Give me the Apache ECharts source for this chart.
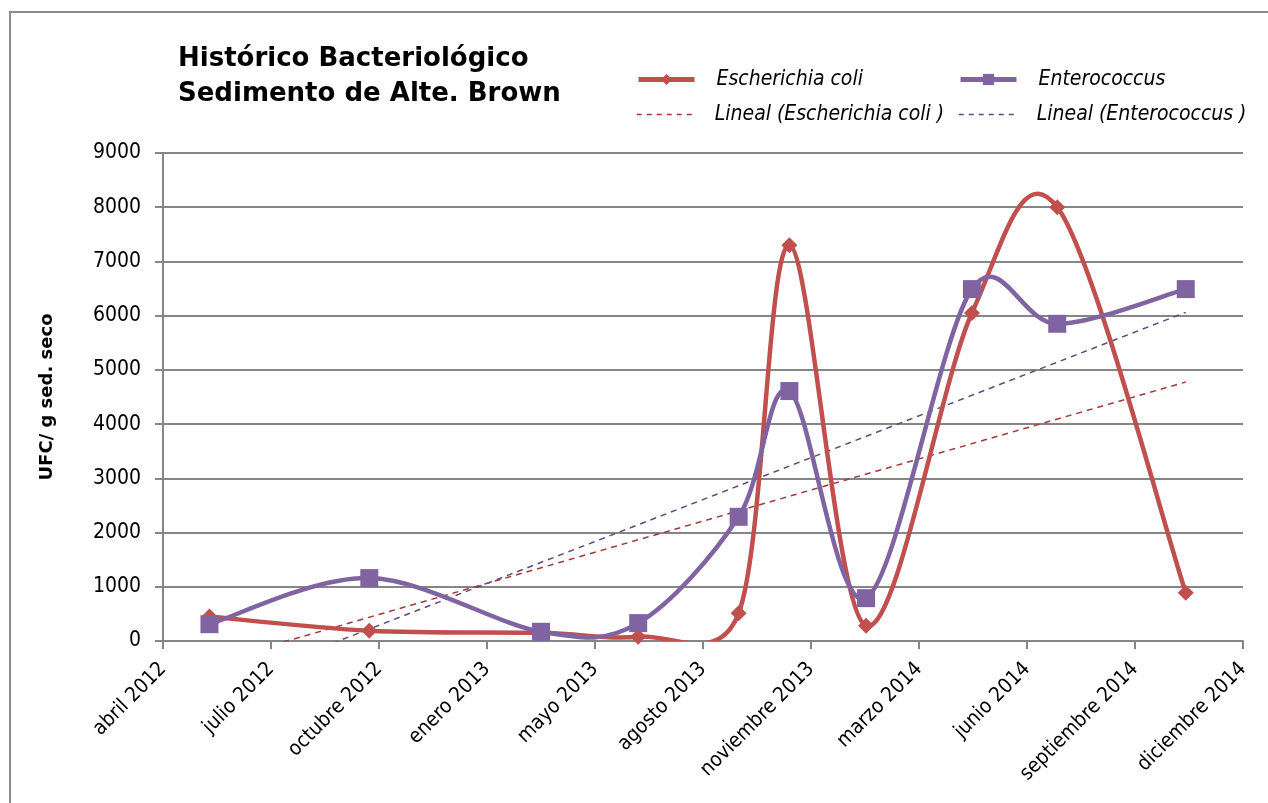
<!DOCTYPE html>
<html>
<head>
<meta charset="utf-8">
<script src="https://cdn.jsdelivr.net/npm/echarts@6/dist/echarts.min.js"></script>
<style>
html,body{margin:0;padding:0;background:#fff;}
#chart{width:1268px;height:803px;}
</style>
</head>
<body>
<div id="chart"></div>
<script>
// ---- Data ----
const startDate = '2012-04-01';
const sampleDates = ['2012-05-14','2012-10-09','2013-03-17','2013-06-15','2013-09-16','2013-11-02','2014-01-12','2014-04-20','2014-07-08','2014-11-04'];
const ecoli = [450, 190, 150, 80, 510, 7300, 280, 6050, 8000, 890];
const enterococcus = [310, 1160, 170, 330, 2290, 4610, 790, 6490, 5850, 6490];
const xTickLabels = ['abril 2012','julio 2012','octubre 2012','enero 2013','mayo 2013','agosto 2013','noviembre 2013','marzo 2014','junio 2014','septiembre 2014','diciembre 2014'];
const seriesNames = ['Escherichia coli','Enterococcus','Lineal (Escherichia coli )','Lineal (Enterococcus )'];

const DAY = 86400000;
const t0 = Date.parse(startDate + 'T00:00:00Z');
const xDays = sampleDates.map(d => Math.round((Date.parse(d + 'T00:00:00Z') - t0) / DAY));

function linReg(xs, ys){
  const n = xs.length;
  const mx = xs.reduce((a,b)=>a+b,0)/n, my = ys.reduce((a,b)=>a+b,0)/n;
  let sxy=0, sxx=0;
  for(let i=0;i<n;i++){ sxy += (xs[i]-mx)*(ys[i]-my); sxx += (xs[i]-mx)*(xs[i]-mx); }
  const b = sxy/sxx, a = my - b*mx;
  const x1 = xs[0], x2 = xs[n-1];
  return [[x1, a+b*x1],[x2, a+b*x2]];
}

const RED = '#C0504D', PURPLE = '#8064A2';
const RED_T = '#9e3b38', PURPLE_T = '#5c4a86';
const FONT = 'DejaVu Sans';
const FONT_C = "'DejaVu Sans Condensed', 'DejaVu Sans'";

const ecoliData = xDays.map((x,i)=>[x, ecoli[i]]);
const enteroData = xDays.map((x,i)=>[x, enterococcus[i]]);

// Excel-style smoothed curve (Catmull-Rom Bezier, handles capped) in pixel space via the chart's own coords
function smoothCurve(name, data, color, z){
  const CAP = 0.55;
  function handle(p, q, from, to){
    // tangent (to-from)/6 from point p, capped against segment p->q
    let hx = (to[0]-from[0])/6, hy = (to[1]-from[1])/6;
    const hl = Math.hypot(hx, hy), sl = Math.hypot(q[0]-p[0], q[1]-p[1]);
    if(hl > CAP*sl && hl > 0){ const k = CAP*sl/hl; hx *= k; hy *= k; }
    return [hx, hy];
  }
  return {
    name:name, type:'custom', clip:true, z:z, silent:true,
    data:data,
    renderItem:function(params, api){
      if(params.dataIndex !== 0) return null;
      const P = data.map(d => api.coord(d));
      const n = P.length;
      let path = 'M' + P[0][0] + ' ' + P[0][1];
      for(let i=0;i<n-1;i++){
        const p0 = P[Math.max(i-1,0)], p1 = P[i], p2 = P[i+1], p3 = P[Math.min(i+2,n-1)];
        const h1 = handle(p1, p2, p0, p2);
        const h2 = handle(p2, p1, p1, p3);
        const c1 = [p1[0] + h1[0], p1[1] + h1[1]];
        const c2 = [p2[0] - h2[0], p2[1] - h2[1]];
        path += ' C' + c1[0] + ' ' + c1[1] + ' ' + c2[0] + ' ' + c2[1] + ' ' + p2[0] + ' ' + p2[1];
      }
      return {type:'path', shape:{pathData:path}, style:{stroke:color, lineWidth:4.5, fill:null, lineJoin:'round', lineCap:'round'}};
    }
  };
}

function legendItem(name, left, top, extra){
  return Object.assign({
    data:[name], left:left, top:top, padding:0,
    itemWidth:56, itemHeight:14,
    textStyle:{fontFamily:FONT_C, fontSize:21, fontStyle:'italic', color:'#000', padding:[0,0,0,17]}
  }, extra || {});
}

const chart = echarts.init(document.getElementById('chart'), null, {renderer:'canvas'});
chart.setOption({
  animation:false,
  backgroundColor:'#fff',
  textStyle:{fontFamily:FONT},
  title:{
    text:'Histórico Bacteriológico\nSedimento de Alte. Brown',
    left:173, top:37,
    textStyle:{fontFamily:FONT, fontSize:26, fontWeight:'bold', color:'#000', lineHeight:35}
  },
  graphic:[
    {type:'polyline', shape:{points:[[10,803],[10,12],[1268,12]]}, style:{stroke:'#8c8c8c', lineWidth:2, fill:null}, silent:true}
  ],
  legend:[
    legendItem(seriesNames[0], 636, 69, {lineStyle:{color:RED, width:5, opacity:1}}),
    legendItem(seriesNames[1], 958, 69, {lineStyle:{color:PURPLE, width:5, opacity:1}}),
    legendItem(seriesNames[2], 636, 104, {lineStyle:{color:RED_T, width:1.5, type:[5,5], opacity:1}, itemStyle:{color:'rgba(0,0,0,0)', borderColor:'rgba(0,0,0,0)', borderWidth:0}}),
    legendItem(seriesNames[3], 958, 104, {lineStyle:{color:PURPLE_T, width:1.5, type:[5,5], opacity:1}, itemStyle:{color:'rgba(0,0,0,0)', borderColor:'rgba(0,0,0,0)', borderWidth:0}})
  ],
  grid:{left:163, top:153, width:1080, height:488, containLabel:false},
  xAxis:{
    type:'value', min:0, max:1000, interval:100,
    axisLine:{show:true, lineStyle:{color:'#868686', width:2}},
    axisTick:{show:true, inside:false, length:8, lineStyle:{color:'#868686', width:2}},
    splitLine:{show:false},
    axisLabel:{
      rotate:45, fontFamily:FONT_C, fontSize:20.5, color:'#000', margin:25,
      formatter:function(v){ const i = Math.round(v/100); return xTickLabels[i] || ''; }
    }
  },
  yAxis:{
    type:'value', min:0, max:9000, interval:1000,
    name:'UFC/ g sed. seco', nameLocation:'middle', nameGap:107, nameRotate:90,
    nameTextStyle:{fontFamily:FONT, fontSize:18, fontWeight:'bold', color:'#000'},
    axisLine:{show:true, lineStyle:{color:'#868686', width:2}},
    axisTick:{show:true, inside:false, length:8, lineStyle:{color:'#868686', width:2}},
    splitLine:{show:true, lineStyle:{color:'#868686', width:2}},
    axisLabel:{fontFamily:FONT_C, fontSize:21, color:'#000', margin:22, formatter:function(v){return String(v);}}
  },
  series:[
    {
      name:seriesNames[2], type:'line', clip:true,
      data:linReg(xDays, ecoli),
      symbol:'none',
      lineStyle:{color:RED_T, width:1.5, type:[6,5]},
      itemStyle:{color:RED_T},
      z:2
    },
    {
      name:seriesNames[3], type:'line', clip:true,
      data:linReg(xDays, enterococcus),
      symbol:'none',
      lineStyle:{color:PURPLE_T, width:1.5, type:[6,5]},
      itemStyle:{color:PURPLE_T},
      z:2
    },
    smoothCurve('ecoliCurve', ecoliData, RED, 3),
    {
      name:seriesNames[0], type:'line',
      data:ecoliData,
      symbol:'diamond', symbolSize:16,
      lineStyle:{color:RED, width:0, opacity:0},
      itemStyle:{color:RED},
      z:3
    },
    smoothCurve('enteroCurve', enteroData, PURPLE, 4),
    {
      name:seriesNames[1], type:'line',
      data:enteroData,
      symbol:'rect', symbolSize:18,
      lineStyle:{color:PURPLE, width:0, opacity:0},
      itemStyle:{color:PURPLE},
      z:4
    }
  ]
});
</script>
</body>
</html>
